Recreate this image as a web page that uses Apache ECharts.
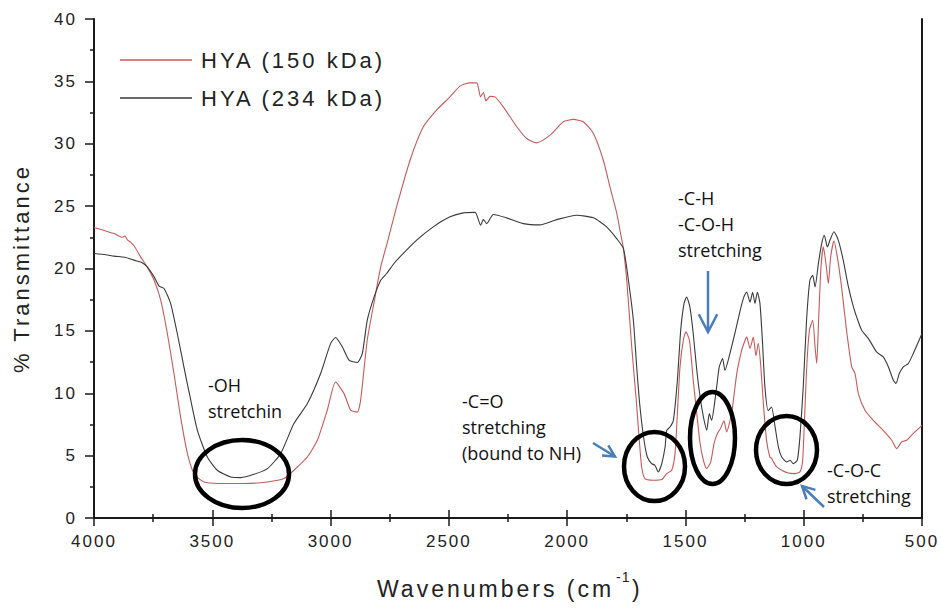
<!DOCTYPE html>
<html><head><meta charset="utf-8">
<script src="https://cdn.jsdelivr.net/npm/echarts@6/dist/echarts.min.js"></script>
<style>
html,body{margin:0;padding:0;background:#fff;}
#chart{width:941px;height:610px;}
#chart text[style*="Liberation Sans"]{letter-spacing:2px;}
#chart text[style*="Liberation Sans"][style*="22px"]{letter-spacing:3px;}
#chart text[style*="Liberation Sans"][style*="23px"]{letter-spacing:3px;}
#chart text[style*="Liberation Sans"][style*="14px"]{letter-spacing:1px;}
</style></head>
<body><div id="chart"></div>
<script>
// ---- Data (wavenumber cm-1, % transmittance) ----
const seriesNames = ['HYA (150 kDa)', 'HYA (234 kDa)'];
const wn150 = [4000,3950,3915,3880,3870,3859,3845,3830,3803,3775,3746,3718,3690,3662,3634,3605,3577,3535,3436,3366,3267,3197,3155,3098,3056,3014,2979,2943,2915,2887,2873,2845,2816,2788,2760,2721,2664,2608,2552,2495,2453,2411,2382,2366,2354,2343,2326,2305,2270,2213,2171,2129,2072,2016,1974,1932,1889,1847,1819,1791,1776,1763,1748,1727,1709,1695,1685,1671,1636,1600,1579,1558,1544,1534,1523,1509,1498,1483,1467,1452,1438,1424,1410,1393,1379,1365,1351,1337,1326,1305,1283,1262,1248,1241,1227,1213,1202,1192,1182,1171,1157,1143,1136,1128,1114,1093,1065,1037,1016,1005,999,988,976,962,952,945,937,927,917,906,896,886,872,858,840,819,797,783,769,741,706,664,628,607,586,565,537,500];
const t150  = [23.29,23.0,22.8,22.5,22.6,22.3,22.1,21.8,20.93,20.1,19.06,17.46,14.79,11.58,8.1,5.16,3.56,2.89,2.76,2.76,2.89,3.16,3.83,4.89,6.23,8.64,10.9,9.97,8.64,8.5,9.44,14.25,17.3,20.13,22.1,24.94,28.68,31.36,32.7,33.76,34.62,34.88,34.88,33.76,34.1,33.44,33.8,33.76,32.96,31.36,30.42,30.07,30.69,31.76,31.95,31.76,30.83,28.68,26.54,24.5,23.0,21.7,19.06,13.71,9.7,6.23,4.09,3.16,3.03,3.08,3.56,3.83,5.16,8.37,12.11,14.25,14.92,14.25,11.04,8.37,5.97,4.63,3.96,4.5,5.97,6.77,7.2,7.8,6.9,8.37,11.58,13.45,14.25,14.52,13.6,14.5,13.0,14.0,12.3,9.3,6.2,4.89,4.8,4.5,4.09,3.83,3.6,3.56,3.7,4.5,6.77,11.84,15.05,15.85,13.71,12.38,15.85,20.13,21.73,20.4,18.8,20.93,22.21,20.93,18.52,15.05,12.11,11.58,9.97,8.64,7.83,7.03,6.23,5.56,6.1,6.23,6.77,7.43];
const wn234 = [4000,3950,3915,3870,3831,3800,3775,3746,3725,3704,3676,3648,3620,3591,3563,3521,3479,3422,3380,3324,3267,3211,3155,3098,3042,3000,2979,2950,2922,2887,2866,2845,2816,2788,2763,2732,2707,2636,2566,2495,2439,2389,2366,2354,2340,2312,2256,2185,2115,2044,1960,1889,1833,1791,1762,1741,1720,1706,1692,1675,1661,1643,1629,1615,1600,1586,1579,1565,1551,1534,1520,1506,1495,1481,1467,1452,1438,1424,1410,1399,1389,1379,1368,1357,1343,1333,1312,1291,1269,1253,1241,1227,1216,1206,1196,1185,1174,1164,1150,1136,1121,1107,1093,1072,1058,1044,1027,1016,1002,988,974,962,952,938,924,913,900,889,872,854,833,811,790,776,755,727,692,664,642,621,610,596,579,558,537,500];
const t234  = [21.2,21.1,20.99,20.9,20.67,20.5,20.13,19.33,18.58,18.4,17.19,14.79,12.11,9.44,7.03,4.89,3.83,3.29,3.24,3.5,3.96,5.16,7.57,9.17,11.58,13.98,14.47,13.71,12.65,12.46,13.18,15.85,17.72,19.06,19.6,20.4,20.93,22.27,23.34,24.14,24.46,24.5,23.47,23.92,23.6,24.33,24.06,23.6,23.5,23.92,24.27,24.06,23.34,22.4,21.6,19.06,15.85,12.11,8.9,6.23,4.89,4.36,4.23,3.69,4.36,5.69,7.03,7.3,7.83,11.04,15.05,17.19,17.72,16.9,14.79,11.84,9.7,8.1,7.03,8.37,7.83,8.9,10.5,12.11,12.78,11.84,13.18,14.79,16.6,17.72,18.12,17.3,18.1,17.2,18.1,17.2,14.0,10.5,8.6,8.9,7.3,5.69,4.89,4.49,4.63,4.36,4.63,6.5,10.5,15.85,19.06,19.46,18.52,20.4,22.0,22.67,21.73,22.27,22.94,22.27,20.67,18.52,16.92,16.1,15.05,14.4,13.31,12.91,12.11,11.04,10.78,11.58,12.11,12.38,13.18,14.79];
const xRange = [500, 4000];
const xStep = 500;
const yRange = [0, 40];
const yStep = 5;
const xTitle = 'Wavenumbers (cm';
const xTitleSup = '-1';
const xTitleEnd = ')';
const yTitle = '% Transmittance';
const notes = [
  {text: '-OH\nstretchin', x: 208, y: 372},
  {text: '-C=O\nstretching\n(bound to NH)', x: 462, y: 388},
  {text: '-C-H\n-C-O-H\nstretching', x: 678, y: 185},
  {text: '-C-O-C\nstretching', x: 827, y: 457}
];
const circles = [
  {cx: 242, cy: 474, rx: 47, ry: 34},
  {cx: 654.5, cy: 466.5, rx: 30.5, ry: 34.5},
  {cx: 712.5, cy: 438, rx: 22.5, ry: 46},
  {cx: 786.5, cy: 450, rx: 30.5, ry: 34}
];
const arrows = [
  {x1: 708, y1: 271, x2: 708, y2: 332, L: 20},
  {x1: 593, y1: 443, x2: 615, y2: 456.5, L: 13},
  {x1: 824, y1: 507, x2: 802, y2: 486, L: 14}
];

const pairs = (xs, ys) => xs.map((x, i) => [x, ys[i]]);
const LS = 'Liberation Sans';
const ANN = 'Open Sans';
const TXT = '#222';

const graphics = [];
circles.forEach(c => graphics.push({
  type: 'ellipse', shape: {cx: c.cx, cy: c.cy, rx: c.rx, ry: c.ry},
  style: {fill: 'none', stroke: '#000', lineWidth: 4.5}, z: 100
}));
const BLUE = '#4a7ebb';
arrows.forEach(a => {
  const ang = Math.atan2(a.y2 - a.y1, a.x2 - a.x1);
  const w = 0.48;
  graphics.push({type: 'line', shape: {x1: a.x1, y1: a.y1, x2: a.x2, y2: a.y2},
    style: {stroke: BLUE, lineWidth: 2.5}, z: 100});
  graphics.push({type: 'polyline', shape: {points: [
    [a.x2 - a.L * Math.cos(ang - w), a.y2 - a.L * Math.sin(ang - w)],
    [a.x2, a.y2],
    [a.x2 - a.L * Math.cos(ang + w), a.y2 - a.L * Math.sin(ang + w)]
  ]}, style: {stroke: BLUE, lineWidth: 2.5, fill: 'none'}, z: 100});
});
notes.forEach(n => graphics.push({
  type: 'text', x: n.x, y: n.y, z: 100,
  style: {text: n.text, fontFamily: ANN, fontSize: 18, lineHeight: 26, fill: '#111', verticalAlign: 'top', align: 'left'}
}));
// x-axis title (with superscript)
graphics.push({type: 'text', x: 377, y: 589, style: {text: xTitle, fontFamily: LS, fontSize: 23, fill: TXT, verticalAlign: 'middle', align: 'left'}});
graphics.push({type: 'text', x: 616, y: 577, style: {text: xTitleSup, fontFamily: LS, fontSize: 14, fill: TXT, verticalAlign: 'middle', align: 'left'}});
graphics.push({type: 'text', x: 632, y: 589, style: {text: xTitleEnd, fontFamily: LS, fontSize: 23, fill: TXT, verticalAlign: 'middle', align: 'left'}});

const legendLine = 'path://M0,0H72V0.01H0Z M0,9.3H72V10.7H0Z M0,19.99H72V20H0Z';

const chart = echarts.init(document.getElementById('chart'), null, {renderer: 'svg'});
const axisLineStyle = {color: '#1a1a1a', width: 2};
const tickStyle = {color: '#1a1a1a', width: 1.5};
chart.setOption({
  animation: false,
  backgroundColor: '#fff',
  grid: {left: 94, right: 19, top: 19, bottom: 92, containLabel: false},
  legend: {
    orient: 'vertical', left: 120, top: 49, padding: 0,
    itemWidth: 72, itemHeight: 20, itemGap: 16,
    data: seriesNames.map(n => ({name: n, icon: legendLine})),
    textStyle: {fontFamily: LS, fontSize: 22, color: TXT, padding: [0, 0, 0, 4]}
  },
  xAxis: [{
    type: 'value', min: xRange[0], max: xRange[1], interval: xStep, inverse: true,
    position: 'bottom',
    axisLine: {show: true, lineStyle: axisLineStyle},
    axisTick: {show: true, length: 8, lineStyle: tickStyle},
    minorTick: {show: true, splitNumber: 2, length: 4, lineStyle: tickStyle},
    splitLine: {show: false},
    axisLabel: {fontFamily: LS, fontSize: 17, color: TXT, margin: 15, formatter: v => String(v)}
  }, {
    type: 'value', min: xRange[0], max: xRange[1], interval: xStep, inverse: true,
    position: 'top',
    axisLine: {show: true, lineStyle: axisLineStyle},
    axisTick: {show: true, length: 8, lineStyle: tickStyle},
    minorTick: {show: true, splitNumber: 2, length: 4, lineStyle: tickStyle},
    splitLine: {show: false},
    axisLabel: {show: false}
  }],
  yAxis: [{
    type: 'value', min: yRange[0], max: yRange[1], interval: yStep, position: 'left',
    axisLine: {show: true, lineStyle: axisLineStyle},
    axisTick: {show: true, length: 9, lineStyle: tickStyle},
    minorTick: {show: true, splitNumber: 2, length: 4, lineStyle: tickStyle},
    splitLine: {show: false},
    axisLabel: {fontFamily: LS, fontSize: 17, color: TXT, margin: 17, formatter: v => String(v)},
    name: yTitle, nameLocation: 'middle', nameGap: 62, nameRotate: 90,
    nameTextStyle: {fontFamily: LS, fontSize: 22, color: TXT}
  }, {
    type: 'value', min: yRange[0], max: yRange[1], interval: yStep, position: 'right',
    axisLine: {show: true, lineStyle: axisLineStyle},
    axisTick: {show: false}, splitLine: {show: false}, axisLabel: {show: false}
  }],
  series: [{
    name: seriesNames[0], type: 'line', xAxisIndex: 0, yAxisIndex: 0,
    data: pairs(wn150, t150), symbol: 'none', showSymbol: false, smooth: 0.2,
    lineStyle: {color: '#c85a5a', width: 1.1}, itemStyle: {color: '#c85a5a'}, z: 3
  }, {
    name: seriesNames[1], type: 'line', xAxisIndex: 0, yAxisIndex: 0,
    data: pairs(wn234, t234), symbol: 'none', showSymbol: false, smooth: 0.2,
    lineStyle: {color: '#3a3a3a', width: 1.1}, itemStyle: {color: '#3a3a3a'}, z: 4
  }],
  graphic: graphics
});
</script>
</body></html>
